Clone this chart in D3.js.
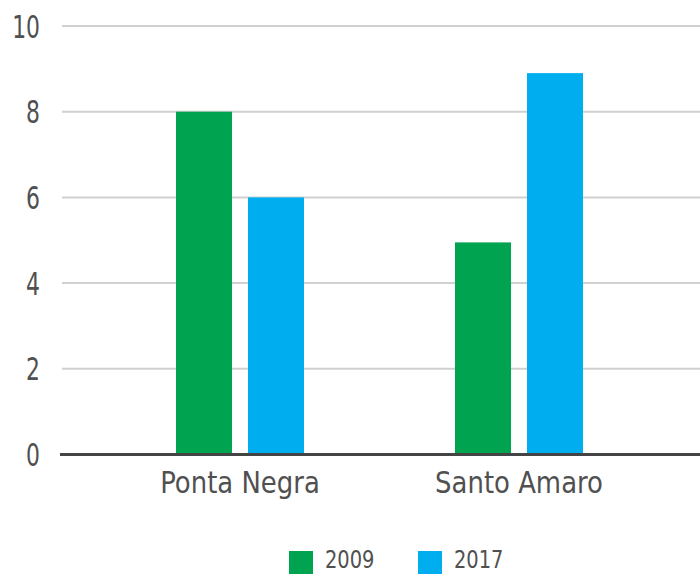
<!DOCTYPE html>
<html>
<head>
<meta charset="utf-8">
<script src="https://cdn.jsdelivr.net/npm/d3@7"></script>
<style>
  body { margin: 0; background: #fff; }
  text { font-family: "DejaVu Sans Condensed", "DejaVu Sans", sans-serif; fill: #505050; }
</style>
</head>
<body>
<svg id="chart" width="700" height="574"></svg>
<script>
// chart data
var categories = ["Ponta Negra", "Santo Amaro"];
var seriesNames = ["2009", "2017"];
var values2009 = [8, 4.95];
var values2017 = [6, 8.9];
var yTicks = [0, 2, 4, 6, 8, 10];
var colors = ["#00a350", "#00aeef"];

var svg = d3.select("#chart");

// scales, tuned so the groups sit where they do in the picture
var y = d3.scaleLinear().domain([0, 10]).range([454.5, 26]);
var x0 = d3.scaleBand().domain(categories).range([100.5, 658.5]);
var x1 = d3.scaleBand().domain(seriesNames).range([0, x0.bandwidth()])
    .paddingInner(0.222).paddingOuter(1.049);

// the reference font is narrower than anything installed, so squeeze it
function narrowText(sel, sx) {
    sel.attr("transform", function () {
        return "scale(" + sx + ",1)";
    });
}

// gridlines
svg.append("g").selectAll("line")
    .data(yTicks.filter(function (d) { return d > 0; }))
    .join("line")
    .attr("x1", 62).attr("x2", 700)
    .attr("y1", function (d) { return y(d); })
    .attr("y2", function (d) { return y(d); })
    .attr("stroke", "#d0d0d0")
    .attr("stroke-width", 2);

// y labels
svg.append("g").selectAll("g")
    .data(yTicks)
    .join("g")
    .attr("transform", function (d) { return "translate(40," + (y(d) + 1) + ")"; })
    .append("text")
    .attr("text-anchor", "end")
    .attr("dominant-baseline", "central")
    .attr("font-size", 32)
    .call(narrowText, 0.76)
    .text(function (d) { return d; });

// bars
var rows = categories.map(function (c, i) {
    return [{ cat: c, s: seriesNames[0], v: values2009[i] },
            { cat: c, s: seriesNames[1], v: values2017[i] }];
});
svg.append("g").selectAll("g")
    .data(rows)
    .join("g")
    .attr("transform", function (d) { return "translate(" + x0(d[0].cat) + ",0)"; })
    .selectAll("rect")
    .data(function (d) { return d; })
    .join("rect")
    .attr("x", function (d) { return x1(d.s); })
    .attr("width", x1.bandwidth())
    .attr("y", function (d) { return y(d.v); })
    .attr("height", function (d) { return y(0) - y(d.v); })
    .attr("fill", function (d, i) { return colors[i]; });

// baseline
svg.append("line")
    .attr("x1", 60).attr("x2", 700)
    .attr("y1", y(0)).attr("y2", y(0))
    .attr("stroke", "#444")
    .attr("stroke-width", 3);

// category labels
svg.append("g").selectAll("g")
    .data(categories)
    .join("g")
    .attr("transform", function (d) {
        return "translate(" + (x0(d) + x0.bandwidth() / 2) + ",493)";
    })
    .append("text")
    .attr("text-anchor", "middle")
    .attr("font-size", 31)
    .call(narrowText, 0.93)
    .text(function (d) { return d; });

// legend
var legendX = [289, 418];
var legend = svg.append("g").selectAll("g")
    .data(seriesNames)
    .join("g")
    .attr("transform", function (d, i) { return "translate(" + legendX[i] + ",551)"; });
legend.append("rect")
    .attr("width", 24).attr("height", 23)
    .attr("fill", function (d, i) { return colors[i]; });
legend.append("g")
    .attr("transform", "translate(36,17)")
    .append("text")
    .attr("font-size", 24)
    .call(narrowText, 0.9)
    .text(function (d) { return d; });
</script>
</body>
</html>
